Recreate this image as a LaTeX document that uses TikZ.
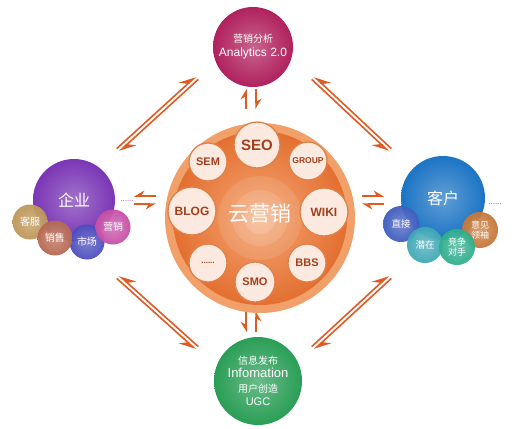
\documentclass[tikz,border=0pt]{standalone}
\usepackage{fontspec}
\setmainfont{Liberation Sans}
\newfontfamily\cjk{Noto Sans CJK SC}
\usetikzlibrary{arrows.meta,calc}
\definecolor{arr}{HTML}{E05A24}
\definecolor{rim}{HTML}{F2A06A}
\definecolor{coreL}{HTML}{F5A775}
\definecolor{coreD}{HTML}{E36F30}
\definecolor{pale}{HTML}{FCEAE0}
\definecolor{paleB}{HTML}{E2804A}
\definecolor{brn}{HTML}{A33F1C}
\definecolor{mag}{HTML}{B0215D}
\definecolor{pur}{HTML}{7A36B5}
\definecolor{blu}{HTML}{1C74C4}
\definecolor{grn}{HTML}{2A9E56}
\definecolor{kf}{HTML}{BE9656}
\definecolor{xs}{HTML}{B66850}
\definecolor{sc}{HTML}{4C4CBE}
\definecolor{yx}{HTML}{C64EA6}
\definecolor{zj}{HTML}{3E5CBE}
\definecolor{qz}{HTML}{3EA8B6}
\definecolor{jz}{HTML}{2EAE8C}
\definecolor{yj}{HTML}{C67636}
\tikzset{
  ball/.style={circle,inner sep=0pt,minimum size=#1,text=white,align=center},
  harpbig/.style={draw=arr,line width=1.6pt,-{Stealth[harpoon,length=15pt,width=14pt,inset=6pt]}},
  harpbigS/.style={draw=arr,line width=1.6pt,-{Stealth[harpoon,swap,length=15pt,width=14pt,inset=6pt]}},
  harpsm/.style={draw=arr,line width=1.8pt,-{Stealth[harpoon,length=9pt,width=11pt,inset=3pt]}},
  harpsmS/.style={draw=arr,line width=1.8pt,-{Stealth[harpoon,swap,length=9pt,width=11pt,inset=3pt]}},
  tag/.style={circle,inner sep=0pt,minimum size=#1,fill=pale,draw=paleB,line width=1.3pt,text=brn,font=\bfseries},
}
% #1 a, #2 b, #3 offset, #4 style
\newcommand\harpL[4]{%
  \draw[#4] ($(#1)!#3!90:(#2)$) -- ($(#2)!#3!-90:(#1)$);
  \draw[#4] ($(#2)!#3!90:(#1)$) -- ($(#1)!#3!-90:(#2)$);}
\newcommand\harpR[4]{%
  \draw[#4] ($(#1)!#3!-90:(#2)$) -- ($(#2)!#3!90:(#1)$);
  \draw[#4] ($(#2)!#3!-90:(#1)$) -- ($(#1)!#3!90:(#2)$);}
\begin{document}
\begin{tikzpicture}[x=1pt,y=-1pt]
\useasboundingbox[fill=white] (0,0) rectangle (515,429);

% ---------- arrows ----------
\coordinate (ulA) at (118,150); \coordinate (ulB) at (197,78);
\coordinate (urA) at (313,78);  \coordinate (urB) at (390,150);
\coordinate (llA) at (118,277); \coordinate (llB) at (197,348);
\coordinate (lrA) at (390,277); \coordinate (lrB) at (313,348);
\coordinate (tvA) at (251,109); \coordinate (tvB) at (251,89);
\coordinate (bvA) at (251,332); \coordinate (bvB) at (251,311);
\coordinate (lhA) at (134,200); \coordinate (lhB) at (156,200);
\coordinate (rhA) at (362,200); \coordinate (rhB) at (384,200);
\harpL{ulA}{ulB}{1.9pt}{harpbig}
\harpR{urA}{urB}{1.9pt}{harpbigS}
\harpR{llA}{llB}{1.9pt}{harpbigS}
\harpL{lrA}{lrB}{1.9pt}{harpbig}
\harpL{tvA}{tvB}{5pt}{harpsm}
\harpR{bvA}{bvB}{5pt}{harpsmS}
\harpR{lhA}{lhB}{4pt}{harpsmS}
\harpL{rhA}{rhB}{4pt}{harpsm}

% ---------- centre ----------
\node[circle,inner sep=0pt,minimum size=190pt,fill=rim] (yun) at (260,218) {};
\node[circle,inner sep=0pt,minimum size=174pt,inner color=coreL,outer color=coreD] (core) at (yun) {};
\fill[white,opacity=0.10] (core.center) circle (42);
\fill[white,opacity=0.12] (core.center) circle (28);
\fill[white,opacity=0.15] (core.center) circle (16);
\node[text=white,font=\cjk\fontsize{21}{23}\selectfont] (yuntxt) at ($(yun)+(0,-4)$) {云营销};

\node[tag=46pt,font=\bfseries\fontsize{15}{16}\selectfont] (seo) at (257,145) {SEO};
\node[tag=38pt,font=\bfseries\fontsize{11}{12}\selectfont] (sem) at (208,162) {SEM};
\node[tag=38pt,font=\bfseries\fontsize{8.5}{10}\selectfont] (group) at (308,161) {GROUP};
\node[tag=48pt,font=\bfseries\fontsize{12}{14}\selectfont] (blog) at (192,211) {BLOG};
\node[tag=48pt,font=\bfseries\fontsize{12}{14}\selectfont] (wiki) at (324,212) {WIKI};
\node[tag=38pt,font=\bfseries\fontsize{8}{10}\selectfont] (more) at (208,263) {......};
\node[tag=40pt,font=\bfseries\fontsize{11}{12}\selectfont] (smo) at (255,282) {SMO};
\node[tag=38pt,font=\bfseries\fontsize{11}{12}\selectfont] (bbs) at (307,263) {BBS};

% ---------- top ----------
\node[ball=80pt,inner color=mag!70!white,outer color=mag] (fenxi) at (253,47)
  {{\cjk\fontsize{10}{12}\selectfont 营销分析}\\[2pt]{\fontsize{12}{14}\selectfont Analytics 2.0}};

% ---------- left ----------
\node[ball=82pt,inner color=pur!70!white,outer color=pur] (qiye) at (74,200)
  {\cjk\fontsize{16}{18}\selectfont 企业};
\node[ball=35pt,inner color=kf!75!white,outer color=kf,opacity=0.95,text opacity=1,font=\cjk\fontsize{10}{12}\selectfont] (kefu) at (30,222) {客服};
\node[ball=35pt,inner color=sc!75!white,outer color=sc,opacity=0.95,text opacity=1,font=\cjk\fontsize{10}{12}\selectfont] (shichang) at (87,242) {市场};
\node[ball=35pt,inner color=xs!75!white,outer color=xs,opacity=0.95,text opacity=1,font=\cjk\fontsize{10}{12}\selectfont] (xiaoshou) at (55,238) {销售};
\node[ball=35pt,inner color=yx!75!white,outer color=yx,opacity=0.95,text opacity=1,font=\cjk\fontsize{10}{12}\selectfont] (yingxiao) at (113,227) {营销};
\node[text=pur!80!white,font=\fontsize{8}{9}\selectfont] (ldots) at (127,201) {......};

% ---------- right ----------
\node[ball=84pt,inner color=blu!70!white,outer color=blu] (kehu) at (443,198)
  {\cjk\fontsize{16}{18}\selectfont 客户};
\node[ball=36pt,inner color=zj!75!white,outer color=zj,opacity=0.95,text opacity=1,font=\cjk\fontsize{9.5}{11}\selectfont] (zhijie) at (401,224) {直接};
\node[ball=36pt,inner color=yj!75!white,outer color=yj,opacity=0.95,text opacity=1,font=\cjk\fontsize{9}{10.5}\selectfont] (yijian) at (480,230) {意见\\领袖};
\node[ball=36pt,inner color=qz!75!white,outer color=qz,opacity=0.95,text opacity=1,font=\cjk\fontsize{9.5}{11}\selectfont] (qianzai) at (425,245) {潜在};
\node[ball=36pt,inner color=jz!75!white,outer color=jz,opacity=0.95,text opacity=1,font=\cjk\fontsize{9}{10.5}\selectfont] (jingzheng) at (457,247) {竞争\\对手};
\node[text=blu,font=\fontsize{8}{9}\selectfont] (rdots) at (495,204) {......};

% ---------- bottom ----------
\node[ball=88pt,inner color=grn!70!white,outer color=grn] (xinxi) at (258,381)
  {{\cjk\fontsize{10}{12}\selectfont 信息发布}\\[1pt]{\fontsize{13}{15}\selectfont Infomation}\\[3pt]
   {\cjk\fontsize{10}{12}\selectfont 用户创造}\\[1pt]{\fontsize{11}{13}\selectfont UGC}};
\end{tikzpicture}
\end{document}
